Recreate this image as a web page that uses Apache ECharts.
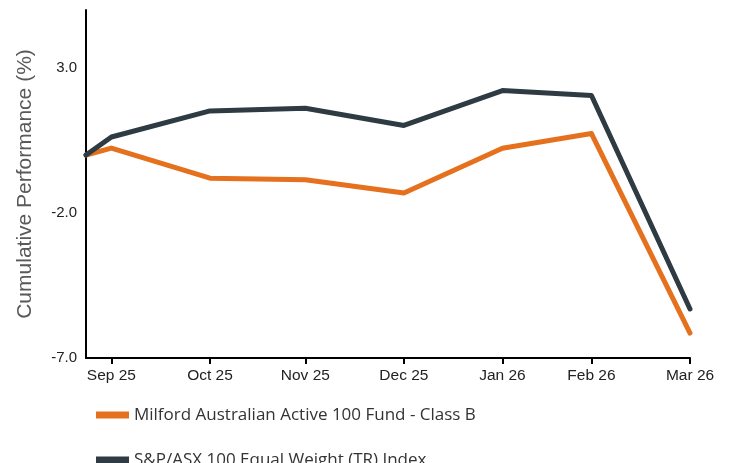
<!DOCTYPE html>
<html>
<head>
<meta charset="utf-8">
<script src="https://cdn.jsdelivr.net/npm/echarts@6/dist/echarts.min.js"></script>
<style>
  html, body { margin: 0; padding: 0; background: #fff; }
  #chart { width: 732px; height: 463px; }
</style>
</head>
<body>
<div id="chart"></div>
<script>
// dates of the data points (first one is the start, value 0)
var dates = ['2025-09-22', '2025-09-30', '2025-10-31', '2025-11-30', '2025-12-31', '2026-01-31', '2026-02-28', '2026-03-31'];
var fund = [0, 0.24, -0.80, -0.85, -1.31, 0.23, 0.74, -6.14];
var index = [0, 0.62, 1.52, 1.61, 1.02, 2.22, 2.05, -5.31];
var tickDates = ['2025-09-30', '2025-10-31', '2025-11-30', '2025-12-31', '2026-01-31', '2026-02-28', '2026-03-31'];
var names = ['Milford Australian Active 100 Fund - Class B', 'S&P/ASX 100 Equal Weight (TR) Index'];
var months = ['Jan','Feb','Mar','Apr','May','Jun','Jul','Aug','Sep','Oct','Nov','Dec'];

function ts(d){ return Date.UTC(+d.slice(0,4), +d.slice(5,7) - 1, +d.slice(8,10)); }
function pairs(vals){
  var out = [];
  for (var i = 0; i < dates.length; i++) out.push([ts(dates[i]), vals[i]]);
  return out;
}
var ticks = tickDates.map(ts);

var legendText = { fontFamily: 'Open Sans', fontSize: 17, color: '#333', lineHeight: 18 };
function legendAt(top, name){
  return {
    orient: 'vertical', left: 91, top: top,
    icon: 'rect', itemWidth: 33, itemHeight: 7, itemGap: 0,
    textStyle: legendText, data: [name]
  };
}

var chart = echarts.init(document.getElementById('chart'));
var option = {
  animation: false,
  color: ['#e5701e', '#2e3b42'],
  grid: { left: 86, right: 42, top: 10, bottom: 105, outerBoundsMode: 'none' },
  legend: [legendAt(401, names[0]), legendAt(446, names[1])],
  // value axis holding timestamps, so ticks can sit on the month ends
  xAxis: {
    type: 'value',
    min: ts(dates[0]),
    max: ts(dates[dates.length - 1]),
    axisLine: { onZero: false, lineStyle: { color: '#000', width: 2 } },
    axisTick: { show: true, customValues: ticks, length: 6, lineStyle: { color: '#000', width: 2 } },
    splitLine: { show: false },
    axisLabel: {
      customValues: ticks,
      color: '#222',
      fontFamily: 'Liberation Sans',
      fontSize: 15.5,
      margin: 10,
      hideOverlap: false,
      formatter: function (v) {
        var d = new Date(v);
        return months[d.getUTCMonth()] + ' ' + String(d.getUTCFullYear()).slice(2);
      }
    }
  },
  yAxis: {
    type: 'value',
    min: -7,
    max: 5,
    interval: 5,
    name: 'Cumulative Performance (%)',
    nameLocation: 'middle',
    nameGap: 50,
    nameTextStyle: { fontFamily: 'Liberation Sans', fontSize: 21, color: '#595959' },
    axisLine: { show: true, onZero: false, lineStyle: { color: '#000', width: 2 } },
    axisTick: { show: false },
    splitLine: { show: false },
    axisLabel: {
      showMaxLabel: false,
      color: '#222',
      fontFamily: 'Liberation Sans',
      fontSize: 15,
      margin: 9,
      formatter: function (v) { return v.toFixed(1); }
    }
  },
  series: [
    { name: names[0], type: 'line', data: pairs(fund), showSymbol: false, symbol: 'none',
      lineStyle: { width: 5, cap: 'round', join: 'round' } },
    { name: names[1], type: 'line', data: pairs(index), showSymbol: false, symbol: 'none',
      lineStyle: { width: 5, cap: 'round', join: 'round' } }
  ]
};
chart.setOption(option);
</script>
</body>
</html>
